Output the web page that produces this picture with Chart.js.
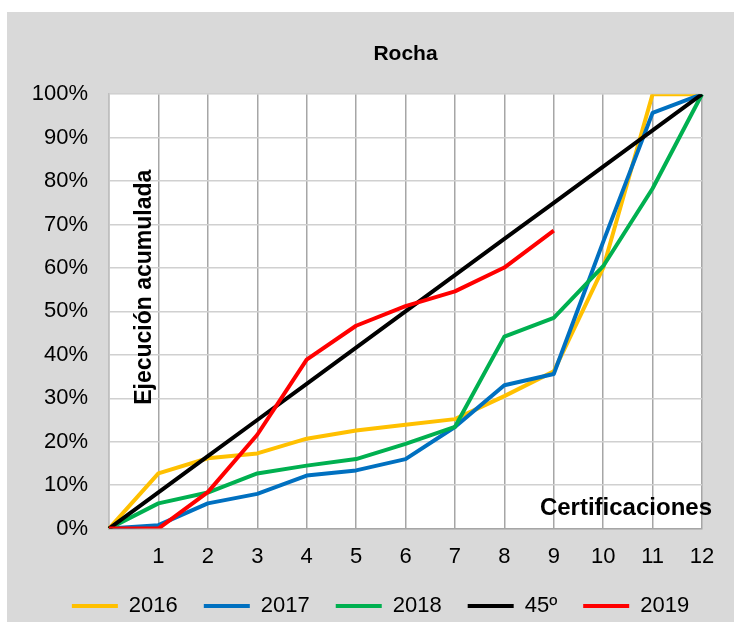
<!DOCTYPE html>
<html>
<head>
<meta charset="utf-8">
<script src="https://cdn.jsdelivr.net/npm/chart.js@4.4.1/dist/chart.umd.min.js"></script>
<style>
  html, body { margin: 0; padding: 0; background: #ffffff; overflow: hidden; }
  #panel { position: absolute; left: 7px; top: 12px; width: 727px; height: 610px; background: #d9d9d9; }
  #wrap { position: absolute; left: 7px; top: 12px; width: 727px; height: 631px; }
</style>
</head>
<body>
<div id="panel"></div>
<div id="wrap"><canvas id="rochaChart"></canvas></div>
<script>
// Certificaciones (eje x) y ejecucion acumulada (%)
const certificaciones = ['0', '1', '2', '3', '4', '5', '6', '7', '8', '9', '10', '11', '12'];
const serie2016 = [0, 12.7, 16.2, 17.3, 20.7, 22.6, 23.9, 25.2, 30.5, 36.2, 60.0, 100, 100];
const serie2017 = [0, 0.8, 5.8, 8.0, 12.2, 13.4, 16.0, 23.4, 33.0, 35.6, 66.0, 95.7, 100];
const serie2018 = [0, 5.8, 8.3, 12.7, 14.5, 16.0, 19.5, 23.4, 44.2, 48.5, 60.4, 78.3, 100];
const serie45 = [0, 8.33, 16.67, 25, 33.33, 41.67, 50, 58.33, 66.67, 75, 83.33, 91.67, 100];
const serie2019 = [0, 0, 8.4, 21.6, 38.9, 46.7, 51.2, 54.6, 60.1, 68.6];
const yTicks = [0, 10, 20, 30, 40, 50, 60, 70, 80, 90, 100];

const FONT = "'Liberation Sans', Arial, sans-serif";

// white plot area + axis titles drawn inside the plot
const plotDecor = {
  id: 'plotDecor',
  afterLayout(chart) {
    // pull the legend row up a bit, closer to the x labels
    chart.legend.top -= 16;
    chart.legend.bottom -= 16;
  },
  beforeDraw(chart) {
    const { ctx, chartArea: a } = chart;
    ctx.save();
    ctx.fillStyle = '#ffffff';
    ctx.fillRect(a.left, a.top, a.right - a.left, a.bottom - a.top);
    ctx.restore();
  },
  afterDraw(chart) {
    const { ctx, chartArea: a } = chart;
    ctx.save();
    ctx.fillStyle = '#000000';
    ctx.font = 'bold 23px ' + FONT;
    // y title, rotated
    ctx.translate(a.left + 36, a.top + 193);
    ctx.rotate(-Math.PI / 2);
    ctx.textAlign = 'center';
    ctx.textBaseline = 'middle';
    ctx.fillText('Ejecución acumulada', 0, 0);
    ctx.restore();

    ctx.save();
    ctx.fillStyle = '#000000';
    ctx.font = 'bold 24px ' + FONT;
    ctx.textAlign = 'right';
    ctx.textBaseline = 'middle';
    ctx.fillText('Certificaciones', a.right + 10, a.bottom - 20);
    ctx.restore();
  }
};

function serie(label, data, color, order) {
  return {
    label: label,
    data: data,
    borderColor: color,
    backgroundColor: color,
    borderWidth: 4,
    pointRadius: 0,
    pointHoverRadius: 0,
    tension: 0,
    borderJoinStyle: 'round',
    order: order
  };
}

new Chart('rochaChart', {
  type: 'line',
  data: {
    labels: certificaciones,
    datasets: [
      serie('2016', serie2016, '#FFC000', 5),
      serie('2017', serie2017, '#0070C0', 4),
      serie('2018', serie2018, '#00B050', 3),
      serie('45º', serie45, '#000000', 2),
      serie('2019', serie2019, '#FF0000', 1)
    ]
  },
  options: {
    responsive: true,
    maintainAspectRatio: false,
    animation: false,
    layout: { padding: { left: 20, right: 0, top: 0, bottom: 0 } },
    plugins: {
      tooltip: { enabled: false },
      title: {
        display: true,
        text: 'Rocha',
        fullSize: false,
        color: '#000000',
        font: { family: FONT, size: 21, weight: 'bold' },
        padding: { top: 30, bottom: 27 }
      },
      legend: {
        position: 'bottom',
        align: 'center',
        labels: {
          usePointStyle: true,
          pointStyle: 'line',
          pointStyleWidth: 46,
          padding: 26,
          color: '#000000',
          font: { family: FONT, size: 22 },
          sort: (a, b) => a.datasetIndex - b.datasetIndex
        }
      }
    },
    scales: {
      x: {
        grid: { color: '#a6a6a6', lineWidth: 1.5, drawTicks: false },
        border: { display: true, color: '#a6a6a6', width: 1.5 },
        ticks: {
          color: '#000000',
          padding: 15,
          maxRotation: 0,
          autoSkip: false,
          font: { family: FONT, size: 22 },
          callback: (v, i) => (i === 0 ? '' : certificaciones[i])
        }
      },
      y: {
        min: 0,
        max: 100,
        afterBuildTicks: (scale) => { scale.ticks = yTicks.map(v => ({ value: v })); },
        afterFit: (scale) => { scale.width = 82; },
        grid: { color: '#d0d0d0', lineWidth: 1.5, drawTicks: false },
        border: { display: true, color: '#bfbfbf', width: 1.5 },
        ticks: {
          color: '#000000',
          padding: 21,
          font: { family: FONT, size: 22 },
          callback: (v) => v + '%'
        }
      },
      // empty right-hand spacer so the plot ends where the reference does
      margen: {
        position: 'right',
        afterFit: (scale) => { scale.width = 32; },
        grid: { display: false },
        border: { display: false },
        ticks: { display: false }
      }
    }
  },
  plugins: [plotDecor]
});
</script>
</body>
</html>
